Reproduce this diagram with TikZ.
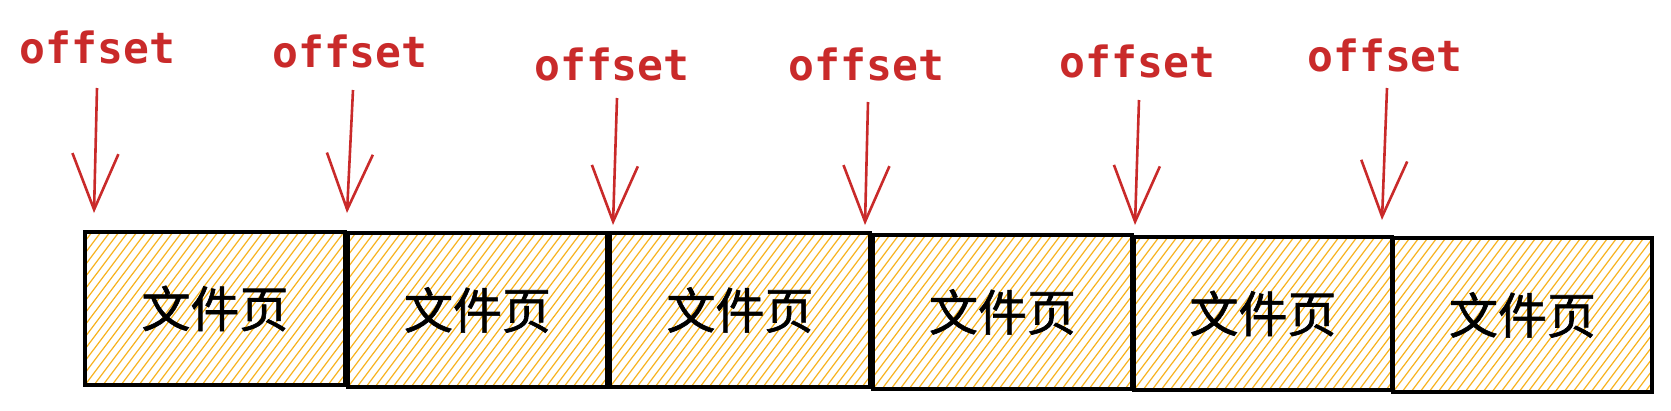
\documentclass[tikz,border=0pt]{standalone}
\usepackage{fontspec}
\setmonofont{DejaVu Sans Mono}
\newfontfamily\cjk[FakeBold=1.2]{Noto Sans CJK SC}
\usetikzlibrary{arrows.meta,calc}
\definecolor{offred}{HTML}{C92A2A}
\definecolor{hatchy}{HTML}{F7B21E}
\tikzset{
  pagebox/.style={draw=black, line width=3.2pt, minimum width=#1, inner sep=0pt, font=\cjk\fontsize{49}{49}\selectfont},
  hatch/.style={draw=hatchy, line width=1.2pt},
  offlabel/.style={anchor=base, inner sep=0pt, text=offred, font=\ttfamily\bfseries\fontsize{43}{43}\selectfont},
  arr/.style={draw=offred, line width=2.6pt, -{Straight Barb[length=56pt,width=46pt,line width=2.6pt]}}
}
\begin{document}
\begin{tikzpicture}[x=1pt,y=-1pt]
\useasboundingbox (0,0) rectangle (1671,410);
% boxes: name / left / top / right / bottom
\foreach \n/\l/\t/\r/\b in {b1/85/232/345/385, b2/348/233/607/387, b3/610/233/870/387, b4/873/235/1132/389, b5/1134/237/1392/390, b6/1393/238/1652/392}{
  \begin{scope}
    \clip (\l,\t) rectangle (\r,\b);
    \foreach \k in {-16,...,30}{
      \draw[hatch] ({\l+9*\k},\b) -- ++(115,-153);
    }
  \end{scope}
  \node[pagebox={\r-\l}, minimum height={\b-\t}] (\n) at ({(\l+\r)/2},{(\t+\b)/2}) {文件页};
}
% labels
\node[offlabel] (o1) at (97.5,63) {offset};
\node[offlabel] (o2) at (350,67) {offset};
\node[offlabel] (o3) at (612,80) {offset};
\node[offlabel] (o4) at (866.5,80) {offset};
\node[offlabel] (o5) at (1137.5,77) {offset};
\node[offlabel] (o6) at (1385,71) {offset};
% arrows
\coordinate (a1s) at (97,88);   \coordinate (a1e) at (94,213);
\coordinate (a2s) at (353,90);  \coordinate (a2e) at (347,213);
\coordinate (a3s) at (617,98);  \coordinate (a3e) at (613,225);
\coordinate (a4s) at (868,102); \coordinate (a4e) at (865,225);
\coordinate (a5s) at (1139,100); \coordinate (a5e) at (1135,225);
\coordinate (a6s) at (1387,88); \coordinate (a6e) at (1382,220);
\foreach \i in {1,...,6}{
  \draw[arr] (a\i s) -- (a\i e);
}
\end{tikzpicture}
\end{document}
